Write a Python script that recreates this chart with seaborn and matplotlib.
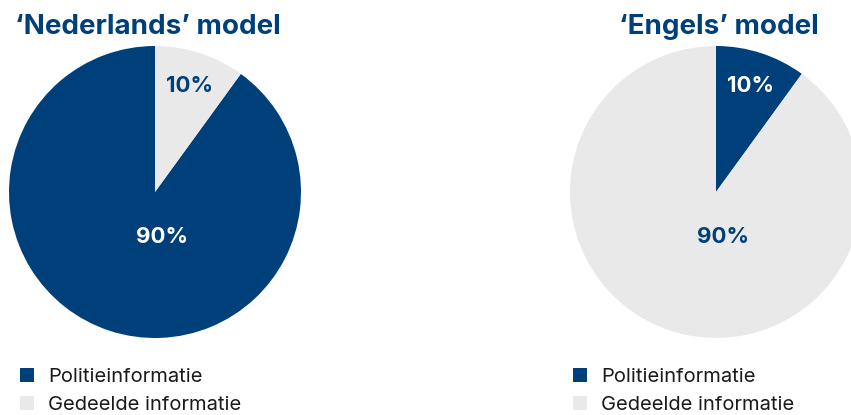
import matplotlib
matplotlib.use("Agg")
import matplotlib.pyplot as plt
import seaborn as sns

# data
categories = ["Politieinformatie", "Gedeelde informatie"]
nl_values = [90, 10]
en_values = [10, 90]
titles = ["\u2018Nederlands\u2019 model", "\u2018Engels\u2019 model"]

blue = "#00407A"
grey = "#E8E9E8"

sns.set_theme(style="white")
plt.rcParams["font.family"] = ["Inter", "DejaVu Sans"]

W, H = 851, 415
fig = plt.figure(figsize=(W / 100, H / 100), dpi=100)


def pie_panel(cx, cy, r, values, title, title_x, counterclock, legend_x):
    ax = fig.add_axes([(cx - r) / W, (H - cy - r) / H, 2 * r / W, 2 * r / H])
    wedges, texts, autotexts = ax.pie(
        values, colors=[blue, grey], startangle=90, counterclock=counterclock,
        autopct="%d%%", pctdistance=0.76, radius=1,
        wedgeprops=dict(linewidth=0),
        textprops=dict(fontsize=16, fontweight="bold"))
    for i, (val, t) in enumerate(zip(values, autotexts)):
        t.set_color("white" if i == 0 else blue)
        if val == 90:
            t.set_position((0.05, -0.31))
    ax.set_xlim(-1, 1)
    ax.set_ylim(-1, 1)
    ax.set_aspect("equal")
    ax.axis("off")
    fig.text(title_x / W, 1 - 27 / H, title, ha="center", va="center",
             fontsize=20, fontweight="bold", color=blue)
    fig.legend(wedges, categories, loc="upper left",
               bbox_to_anchor=(legend_x / W, 1 - 368 / H), frameon=False,
               fontsize=14.5, handlelength=0.7, handleheight=0.7,
               handletextpad=0.7, labelspacing=0.5, borderpad=0,
               borderaxespad=0, labelcolor="#1a1a1a")


pie_panel(155, 192, 146, nl_values, titles[0], 148, True, 20)
pie_panel(716, 192, 146, en_values, titles[1], 719, False, 573)

fig.savefig("out.png", dpi=100)
